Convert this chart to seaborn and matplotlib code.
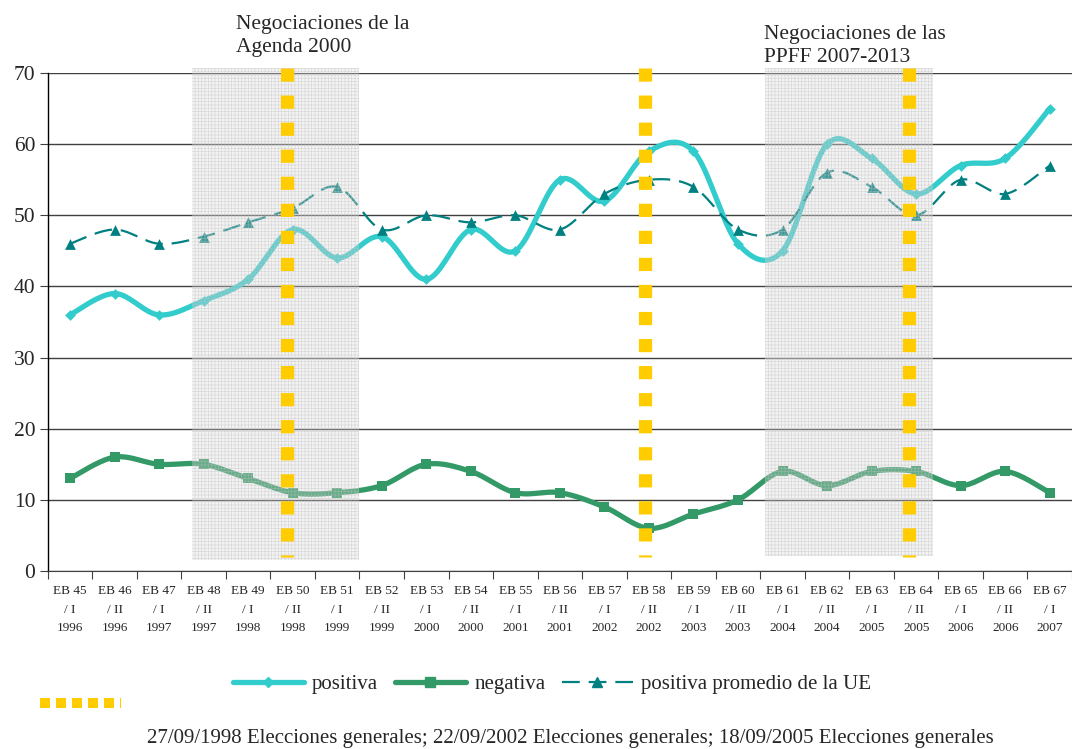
import numpy as np
import pandas as pd
import matplotlib
matplotlib.use("Agg")
import matplotlib.pyplot as plt
import seaborn as sns
from matplotlib.patches import Rectangle
from matplotlib.lines import Line2D

# ---------------- data ----------------
surveys = ["EB 45", "EB 46", "EB 47", "EB 48", "EB 49", "EB 50", "EB 51", "EB 52",
           "EB 53", "EB 54", "EB 55", "EB 56", "EB 57", "EB 58", "EB 59", "EB 60",
           "EB 61", "EB 62", "EB 63", "EB 64", "EB 65", "EB 66", "EB 67"]
semesters = ["I", "II", "I", "II", "I", "II", "I", "II", "I", "II", "I", "II",
             "I", "II", "I", "II", "I", "II", "I", "II", "I", "II", "I"]
years = ["1996", "1996", "1997", "1997", "1998", "1998", "1999", "1999", "2000",
         "2000", "2001", "2001", "2002", "2002", "2003", "2003", "2004", "2004",
         "2005", "2005", "2006", "2006", "2007"]
positiva = [36, 39, 36, 38, 41, 48, 44, 47, 41, 48, 45, 55, 52, 59, 59, 46, 45,
            60, 58, 53, 57, 58, 65]
negativa = [13, 16, 15, 15, 13, 11, 11, 12, 15, 14, 11, 11, 9, 6, 8, 10, 14, 12,
            14, 14, 12, 14, 11]
positiva_ue = [46, 48, 46, 47, 49, 51, 54, 48, 50, 49, 50, 48, 53, 55, 54, 48, 48,
               56, 54, 50, 55, 53, 57]
series_names = ["positiva", "negativa", "positiva promedio de la UE"]

# negotiation periods (category-position spans) and election positions
negotiation_spans = [(2.73, 6.49, 1.6), (15.6, 19.37, 2.1)]
negotiation_labels = ["Negociaciones de la\nAgenda 2000",
                      "Negociaciones de las\nPPFF 2007-2013"]
election_pos = [4.88, 12.92, 18.83]
election_text = ("27/09/1998 Elecciones generales; 22/09/2002 Elecciones generales; "
                 "18/09/2005 Elecciones generales")

# ---------------- style ----------------
sns.set_style("white")
plt.rcParams["font.family"] = ["Liberation Serif", "DejaVu Serif"]
plt.rcParams["hatch.linewidth"] = 0.5

C_POS = "#33CCCC"
C_NEG = "#339966"
C_UE = "#008080"
C_YEL = "#FFCC00"


def smooth(vals, n=20):
    """Excel-like smoothed curve (uniform Catmull-Rom as cubic Bezier)."""
    x = np.arange(len(vals), dtype=float)
    y = np.asarray(vals, dtype=float)
    xs, ys = [], []
    for i in range(len(vals) - 1):
        i0 = max(i - 1, 0)
        i3 = min(i + 2, len(vals) - 1)
        p0 = np.array([x[i], y[i]])
        p3 = np.array([x[i + 1], y[i + 1]])
        p1 = p0 + (np.array([x[i + 1], y[i + 1]]) - np.array([x[i0], y[i0]])) / 6
        p2 = p3 - (np.array([x[i3], y[i3]]) - np.array([x[i], y[i]])) / 6
        t = np.linspace(0, 1, n, endpoint=(i == len(vals) - 2))[:, None]
        pts = ((1 - t) ** 3) * p0 + 3 * ((1 - t) ** 2) * t * p1 + 3 * (1 - t) * t ** 2 * p2 + t ** 3 * p3
        xs.append(pts[:, 0])
        ys.append(pts[:, 1])
    return np.concatenate(xs), np.concatenate(ys)


fig = plt.figure(figsize=(10.72, 7.49), dpi=100)
ax = fig.add_axes([0.0445, 0.2377, 0.9555, 0.6648])

idx = np.arange(len(surveys))
styles = [
    (positiva, C_POS, 3.8, "-", "D", 30),
    (negativa, C_NEG, 3.8, "-", "s", 55),
    (positiva_ue, C_UE, 1.6, (0, (8, 4)), "^", 60),
]
for (vals, col, lw, ls, mk, ms), name in zip(styles, series_names):
    sx, sy = smooth(vals)
    df = pd.DataFrame({"x": sx, "y": sy})
    sns.lineplot(data=df, x="x", y="y", ax=ax, color=col, linewidth=lw,
                 linestyle=ls, sort=False, estimator=None, zorder=3)
    sns.scatterplot(x=idx, y=vals, ax=ax, color=col, marker=mk, s=ms,
                    linewidth=0, zorder=3.5)

# negotiation shading (drawn over lines)
for (x0, x1, yb) in negotiation_spans:
    ax.add_patch(Rectangle((x0, yb), x1 - x0, 70.7 - yb, facecolor=(0.85, 0.85, 0.85, 0.3),
                           edgecolor=(0.75, 0.75, 0.75, 0.5), hatch="+++++",
                           linewidth=0, zorder=4, clip_on=False))

# election lines
for xp in election_pos:
    ax.plot([xp, xp], [70.75, 1.9], color=C_YEL, linewidth=9.5,
            linestyle=(0, (1.0, 1.05)), solid_capstyle="butt",
            dash_capstyle="butt", zorder=5, clip_on=False)

ax.set_xlim(-0.5, len(surveys) - 0.5)
ax.set_ylim(0, 70)
ax.set_yticks(range(0, 71, 10))
ax.tick_params(axis="y", labelsize=15.5, length=6, direction="out", left=True,
               color="#404040", pad=3)
ax.yaxis.grid(True, color="#404040", linewidth=1.0)
ax.set_axisbelow(True)

ax.set_xticks(np.arange(-0.5, len(surveys)), labels=[""] * (len(surveys) + 1))
ax.set_xticks(idx, labels=[f"{s}\n/ {m}\n{y}" for s, m, y in zip(surveys, semesters, years)],
              minor=True)
ax.tick_params(axis="x", which="major", length=6, direction="out", bottom=True,
               color="#404040")
ax.tick_params(axis="x", which="minor", length=0, labelsize=9.5, pad=10)
for lbl in ax.get_xticklabels(minor=True):
    lbl.set_linespacing(1.75)

ax.set_xlabel("")
ax.set_ylabel("")
for s in ["top", "right"]:
    ax.spines[s].set_visible(False)
ax.spines["left"].set_color("black")
ax.spines["bottom"].set_color("#404040")
ax.spines["left"].set_linewidth(1.0)

# annotations
fig.text(236 / 1072, 1 - 15 / 749, negotiation_labels[0], fontsize=15.5,
         va="top", ha="left", linespacing=1.3)
fig.text(764 / 1072, 1 - 25 / 749, negotiation_labels[1], fontsize=15.5,
         va="top", ha="left", linespacing=1.3)

# legend
handles = [
    Line2D([], [], color=C_POS, lw=3.8, marker="D", markersize=5),
    Line2D([], [], color=C_NEG, lw=3.8, marker="s", markersize=7),
    Line2D([], [], color=C_UE, lw=1.6, linestyle=(0, (8, 4)), marker="^", markersize=7),
]
fig.legend(handles, series_names, loc="center", bbox_to_anchor=(552 / 1072, 1 - 684 / 749),
           ncol=3, frameon=False, fontsize=15, handlelength=3.4, handletextpad=0.4,
           columnspacing=0.8)

fig.add_artist(Line2D([40 / 1072, 121 / 1072], [1 - 703 / 749, 1 - 703 / 749],
                      transform=fig.transFigure, color=C_YEL, linewidth=7.2,
                      linestyle=(0, (1.0, 0.6)), dash_capstyle="butt"))
fig.text(147 / 1072, 1 - 739 / 749, election_text, fontsize=15, va="center", ha="left")

fig.savefig("out.png", dpi=100)
